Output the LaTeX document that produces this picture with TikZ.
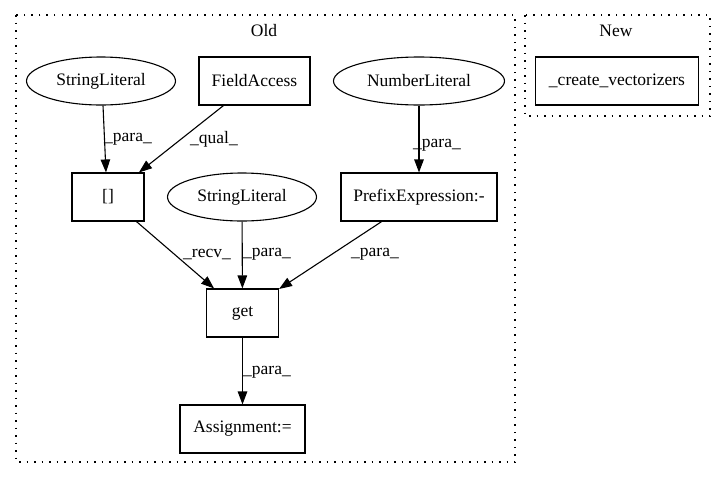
\documentclass[tikz,border=0pt]{standalone}
\usepackage{fontspec}
\setmainfont{Liberation Serif}
\usetikzlibrary{shapes.geometric,arrows.meta}
\begin{document}
\begin{tikzpicture}[x=1pt,y=-1pt,
  every node/.style={font=\fontsize{17.5}{20}\selectfont, inner sep=0pt},
  box/.style={draw, line width=1.1pt, minimum height=48pt},
  oval/.style={draw, ellipse, line width=1.1pt, minimum height=48pt},
  cluster/.style={draw, line width=1.1pt, dash pattern=on 1.5pt off 6pt},
  edge/.style={line width=1.1pt, -{Triangle[length=13pt,width=9.5pt]}},
  lbl/.style={anchor=center}]
\useasboundingbox (0,0) rectangle (725,480);
\draw[cluster] (16,15) rectangle (515,462);
\draw[cluster] (525,15) rectangle (710,116);
\node (oldlbl) at (264,31) {Old};
\node (newlbl) at (616,31) {New};

\node[oval, minimum width=149pt] (sl1) at (101,81) {StringLiteral};
\node[box, minimum width=111pt] (fa) at (254.5,81) {FieldAccess};
\node[oval, minimum width=171pt] (nl) at (419,81) {NumberLiteral};
\node[box, minimum width=163pt] (cv) at (617,81) {\_create\_vectorizers};
\node[box, minimum width=72pt] (br) at (108,197) {[]};
\node[oval, minimum width=149pt] (sl2) at (242,197) {StringLiteral};
\node[box, minimum width=156pt] (pe) at (419,197) {PrefixExpression:-};
\node[box, minimum width=72pt] (get) at (242.5,313) {get};
\node[box, minimum width=125pt] (as) at (242.5,429) {Assignment:=};

\draw[edge] (sl1.south) ++(2,0) coordinate (a1) -- (br.north -| 106,0);
\draw[edge] (fa) -- (br);
\draw[edge] (nl) -- (pe);
\draw[edge] (br) -- (get);
\draw[edge] (sl2) -- (get);
\draw[edge] (pe) -- (get);
\draw[edge] (get) -- (as);

\node[lbl] (l1) at (128,139) {\_para\_};
\node[lbl] (l2) at (214,139) {\_qual\_};
\node[lbl] (l3) at (437,145) {\_para\_};
\node[lbl] (l4) at (207,254) {\_recv\_};
\node[lbl] (l5) at (267,254) {\_para\_};
\node[lbl] (l6) at (375,254) {\_para\_};
\node[lbl] (l7) at (267,372) {\_para\_};
\end{tikzpicture}
\end{document}
